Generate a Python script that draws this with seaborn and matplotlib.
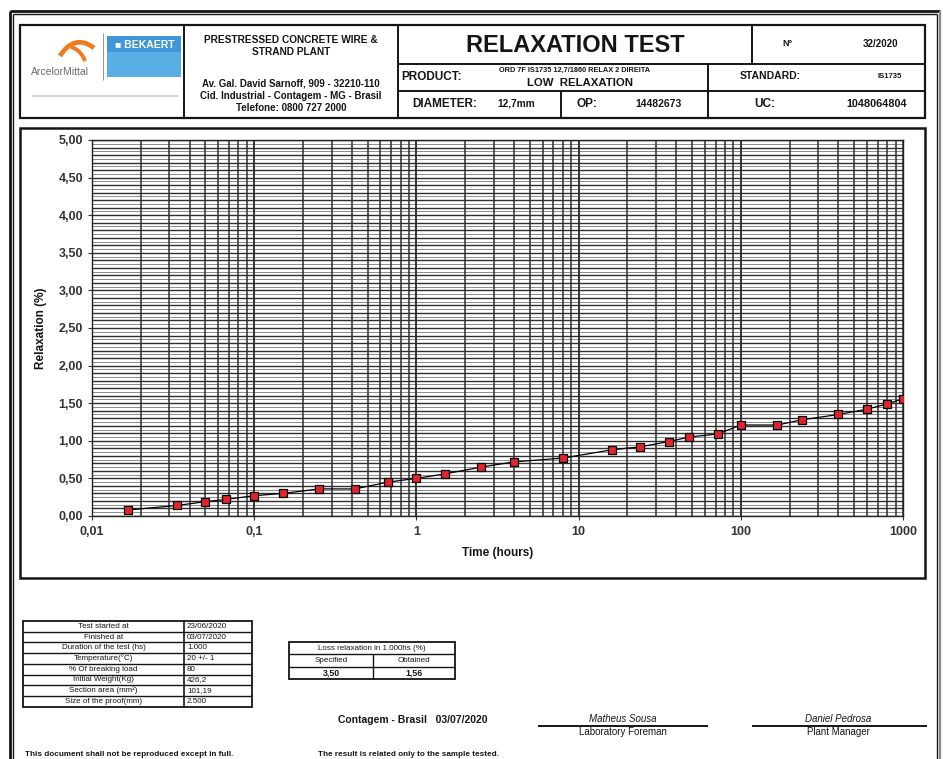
import numpy as np
import pandas as pd
import seaborn as sns
import matplotlib
matplotlib.use("Agg")
import matplotlib.pyplot as plt
from matplotlib.patches import Rectangle, PathPatch
from matplotlib.path import Path
from matplotlib.ticker import FixedLocator, FixedFormatter, NullLocator

# ---------------- data ----------------
time_h = [0.0167, 0.0333, 0.05, 0.0667, 0.1, 0.15, 0.25, 0.4167, 0.6667,
          1, 1.5, 2.5, 4, 8, 16, 24, 36, 48, 72, 100, 168, 240, 400, 600, 800, 1000]
relaxation = [0.08, 0.14, 0.19, 0.22, 0.27, 0.30, 0.36, 0.36, 0.45,
              0.50, 0.56, 0.65, 0.72, 0.77, 0.88, 0.92, 0.99, 1.05, 1.09, 1.21, 1.21,
              1.28, 1.35, 1.42, 1.49, 1.56]
x_ticks = [0.01, 0.1, 1, 10, 100, 1000]
x_tick_labels = ["0,01", "0,1", "1", "10", "100", "1000"]
y_ticks = [0, 0.5, 1.0, 1.5, 2.0, 2.5, 3.0, 3.5, 4.0, 4.5, 5.0]
y_tick_labels = ["0,00", "0,50", "1,00", "1,50", "2,00", "2,50", "3,00", "3,50", "4,00", "4,50", "5,00"]

info_labels = ["Test started at", "Finished at", "Duration of the test (hs)", "Temperature(°C)",
               "% Of breaking load", "Initial Weight(Kg)", "Section area (mm²)", "Size of the proof(mm)"]
info_values = ["23/06/2020", "03/07/2020", "1.000", "20 +/- 1", "80", "426,2", "101,19", "2.500"]
loss_specified = "3,50"
loss_obtained = "1,56"

df = pd.DataFrame({"time": time_h, "relax": relaxation})

# ---------------- figure ----------------
sns.set_theme(style="white")
plt.rcParams["font.family"] = ["Liberation Sans", "DejaVu Sans"]
W, H = 943, 759
fig = plt.figure(figsize=(9.43, 7.59), dpi=100)
fig.patch.set_facecolor("white")

bg = fig.add_axes([0, 0, 1, 1], zorder=0)
bg.set_xlim(0, W)
bg.set_ylim(H, 0)
bg.axis("off")

K = "#151515"


def line(x0, y0, x1, y1, lw=1.2, c=K):
    bg.plot([x0, x1], [y0, y1], color=c, lw=lw, solid_capstyle="butt")


def rect(x0, y0, x1, y1, lw=1.2, c=K, fc="none"):
    bg.add_patch(Rectangle((x0, y0), x1 - x0, y1 - y0, fill=(fc != "none"),
                           facecolor=fc, edgecolor=c, lw=lw))


def txt(x, y, s, size=7, weight="bold", ha="center", c=K, style="normal"):
    bg.text(x, y, s, fontsize=size, fontweight=weight, ha=ha, va="center",
            color=c, style=style)


# outer double frame
line(10, 11, 940, 11, lw=2.0)
line(10, 11, 10, H, lw=2.0)
line(13, 14, 13, H, lw=1.0)
line(13, 14, 937, 14, lw=1.0)
line(937, 14, 937, H, lw=1.0)
line(940, 11, 940, H, lw=1.6, c="#888888")

# ---------------- header table ----------------
rect(20, 25, 925, 118, lw=1.6)
line(184, 25, 184, 118, lw=1.4)
line(398, 25, 398, 118, lw=1.4)
line(398, 64, 925, 64, lw=1.4)
line(398, 91, 925, 91, lw=1.4)
line(752, 25, 752, 64, lw=1.4)
line(708, 64, 708, 118, lw=1.4)
line(561, 91, 561, 118, lw=1.4)

# logos
verts = [(60, 56), (68, 43), (80, 37), (94, 48)]
bg.add_patch(PathPatch(Path(verts, [Path.MOVETO, Path.CURVE4, Path.CURVE4, Path.CURVE4]),
                       fc="none", ec="#f07a1e", lw=3.4))
verts2 = [(71, 47), (80, 50), (83, 56), (85, 61)]
bg.add_patch(PathPatch(Path(verts2, [Path.MOVETO, Path.CURVE4, Path.CURVE4, Path.CURVE4]),
                       fc="none", ec="#f07a1e", lw=2.8))
txt(60, 72, "ArcelorMittal", size=7.5, weight="normal", c="#6b6b6b")
line(103, 33, 103, 80, lw=0.8, c="#999999")
rect(107, 36, 181, 77, lw=0, c="none", fc="#5aaee6")
rect(107, 36, 181, 52, lw=0, c="none", fc="#3f97d8")
txt(145, 45, "■ BEKAERT", size=7.5, weight="bold", c="white")
line(32, 96, 178, 96, lw=1.2, c="#c8c8c8")

# centre block
txt(291, 40, "PRESTRESSED CONCRETE WIRE &", size=7.3)
txt(291, 52, "STRAND PLANT", size=7.3)
txt(291, 83, "Av. Gal. David Sarnoff, 909 - 32210-110", size=7)
txt(291, 96, "Cid. Industrial - Contagem - MG - Brasil", size=7)
txt(291, 108, "Telefone: 0800 727 2000", size=7)

# right block
txt(575, 45, "RELAXATION TEST", size=17)
txt(787, 44, "N°", size=6.5)
txt(880, 44, "32/2020", size=7)
txt(401, 77, "PRODUCT:", size=8.5, ha="left")
txt(575, 70, "ORD 7F IS1735 12,7/1860 RELAX 2 DIREITA", size=5.3)
txt(580, 83, "LOW  RELAXATION", size=8.2)
txt(770, 76, "STANDARD:", size=7.5)
txt(890, 77, "IS1735", size=5.5)
txt(445, 104, "DIAMETER:", size=8.5)
txt(516, 104, "12,7mm", size=7.3)
txt(587, 104, "OP:", size=8.5)
txt(658, 104, "14482673", size=7.5)
txt(765, 104, "UC:", size=8.5)
txt(877, 104, "1048064804", size=7.8)

# chart box
rect(20, 128, 925, 578, lw=1.8)

# ---------------- chart ----------------
ax = fig.add_axes([92 / W, 1 - 516 / H, 811 / W, 376 / H], zorder=2)
ax.set_facecolor("white")
ax.set_xscale("log")

# grid lines
for d in [0.01, 0.1, 1, 10, 100]:
    for k in range(1, 11):
        ax.axvline(k * d, color="#2e2e2e", lw=1.1, zorder=1)
for i in range(51):
    ax.axhline(i * 0.1, color="#2e2e2e", lw=1.0, zorder=1)
for i in range(50):
    ax.axhline(i * 0.1 + 0.05, color="#8c8c8c", lw=0.7, zorder=0.9)

sns.lineplot(data=df, x="time", y="relax", color="black", lw=0.9, ax=ax, zorder=3)
sns.scatterplot(data=df, x="time", y="relax", marker="s", s=34, color="#e3232e",
                edgecolor="black", linewidth=0.9, ax=ax, zorder=4)

ax.set_xlim(0.01, 1000)
ax.set_ylim(0, 5)
ax.xaxis.set_major_locator(FixedLocator(x_ticks))
ax.xaxis.set_major_formatter(FixedFormatter(x_tick_labels))
ax.xaxis.set_minor_locator(NullLocator())
ax.yaxis.set_major_locator(FixedLocator(y_ticks))
ax.yaxis.set_major_formatter(FixedFormatter(y_tick_labels))
ax.tick_params(axis="both", which="major", labelsize=9, colors="#333333",
               length=3, width=0.8, direction="out", bottom=True, left=True)
ax.tick_params(axis="x", pad=4)
for lab in ax.get_xticklabels() + ax.get_yticklabels():
    lab.set_fontweight("bold")
for sp in ax.spines.values():
    sp.set_color("#222222")
    sp.set_linewidth(1.0)
ax.set_xlabel("Time (hours)", fontsize=8.5, fontweight="bold", color=K, labelpad=7)
ax.set_ylabel("Relaxation (%)", fontsize=8.5, fontweight="bold", color=K, labelpad=8)

# ---------------- bottom info table ----------------
tx0, tx1, tx2 = 23, 184, 252
ty0, row_h = 621, 10.7
n = len(info_labels)
rect(tx0, ty0, tx2, ty0 + n * row_h, lw=1.3)
line(tx1, ty0, tx1, ty0 + n * row_h, lw=1.2)
for i in range(n):
    yc = ty0 + (i + 0.5) * row_h
    if i > 0:
        line(tx0, ty0 + i * row_h, tx2, ty0 + i * row_h, lw=1.0)
    txt((tx0 + tx1) / 2, yc, info_labels[i], size=5.8, weight="normal")
    txt(tx1 + 3, yc, info_values[i], size=5.8, weight="normal", ha="left")

# loss table
lx0, lx1, lx2 = 289, 373, 455
ly0, lrh = 642, 12.3
rect(lx0, ly0, lx2, ly0 + 3 * lrh, lw=1.3)
line(lx0, ly0 + lrh, lx2, ly0 + lrh, lw=1.0)
line(lx0, ly0 + 2 * lrh, lx2, ly0 + 2 * lrh, lw=1.0)
line(lx1, ly0 + lrh, lx1, ly0 + 3 * lrh, lw=1.0)
txt((lx0 + lx2) / 2, ly0 + 0.5 * lrh, "Loss relaxation in 1.000hs (%)", size=5.8, weight="normal")
txt((lx0 + lx1) / 2, ly0 + 1.5 * lrh, "Specified", size=5.8, weight="normal")
txt((lx1 + lx2) / 2, ly0 + 1.5 * lrh, "Obtained", size=5.8, weight="normal")
txt((lx0 + lx1) / 2, ly0 + 2.5 * lrh, loss_specified, size=6.3)
txt((lx1 + lx2) / 2, ly0 + 2.5 * lrh, loss_obtained, size=6.3)

# place / date and signatures
txt(413, 720, "Contagem - Brasil   03/07/2020", size=7.5)
line(538, 726, 708, 726, lw=1.4)
txt(623, 719, "Matheus Sousa", size=7, weight="normal", style="italic")
txt(623, 732, "Laboratory Foreman", size=7, weight="normal")
line(752, 726, 927, 726, lw=1.4)
txt(838, 719, "Daniel Pedrosa", size=7, weight="normal", style="italic")
txt(838, 732, "Plant Manager", size=7, weight="normal")

txt(25, 754, "This document shall not be reproduced except in full.", size=5.9, ha="left")
txt(318, 754, "The result is related only to the sample tested.", size=5.9, ha="left")

fig.savefig("out.png", dpi=100, facecolor="white")
